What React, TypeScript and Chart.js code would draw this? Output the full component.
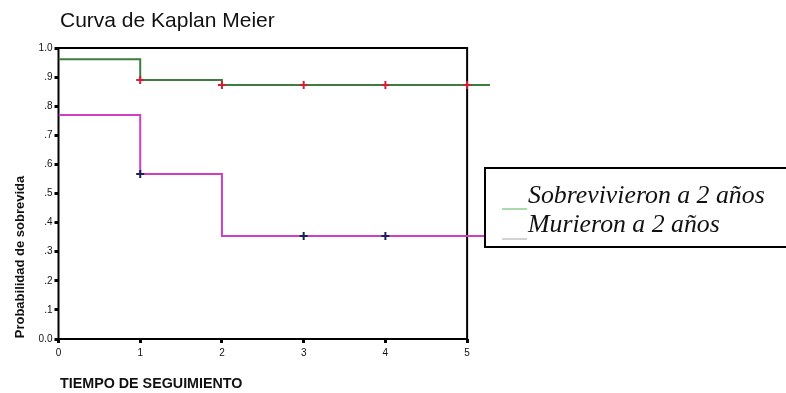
import { useEffect, useRef } from "react";
import { Chart, registerables } from "chart.js";

Chart.register(...registerables);

const TITLE = "Curva de Kaplan Meier";
const X_TITLE = "TIEMPO DE SEGUIMIENTO";
const Y_TITLE = "Probabilidad de sobrevida";
const SERIES_LABELS = ["Sobrevivieron a 2 años", "Murieron a 2 años"];

const X_TICKS = [0, 1, 2, 3, 4, 5];
const Y_TICKS = [0, 0.1, 0.2, 0.3, 0.4, 0.5, 0.6, 0.7, 0.8, 0.9, 1.0];
const X_MAX = 5.28;

const survivedTimes = [0, 1, 2, 5.28];
const survivedProb = [0.961, 0.89, 0.873, 0.873];
const survivedCensorTimes = [1, 2, 3, 4, 5];
const survivedCensorProb = [0.89, 0.873, 0.873, 0.873, 0.873];

const diedTimes = [0, 1, 2, 5.28];
const diedProb = [0.77, 0.567, 0.354, 0.354];
const diedCensorTimes = [1, 3, 4];
const diedCensorProb = [0.567, 0.354, 0.354];

const GREEN = "#3d7d3d";
const PINK = "#cf3fc4";
const RED = "#d02038";
const NAVY = "#1c1c5c";

const SANS = "'Liberation Sans', Arial, sans-serif";
const SERIF = "'Liberation Serif', 'Times New Roman', serif";

const pts = (xs: number[], ys: number[]) => xs.map((x, i) => ({ x, y: ys[i] }));

const decor = {
  id: "decor",
  beforeDatasetsDraw(chart: any) {
    const { ctx, scales } = chart;
    const x = scales.x, y = scales.y;
    ctx.save();
    ctx.strokeStyle = "#000";
    ctx.lineWidth = 2;
    const l = x.getPixelForValue(0), r = x.getPixelForValue(5);
    const t = y.getPixelForValue(1), b = y.getPixelForValue(0);
    ctx.strokeRect(l, t, r - l, b - t);
    ctx.restore();
  },
  afterDraw(chart: any) {
    const { ctx } = chart;
    ctx.save();
    // title
    ctx.fillStyle = "#111";
    ctx.textBaseline = "alphabetic";
    ctx.textAlign = "left";
    ctx.font = `21px ${SANS}`;
    ctx.fillText(TITLE, 60, 27);
    // x title
    ctx.font = `bold 14.3px ${SANS}`;
    ctx.fillText(X_TITLE, 60, 388);
    // y title
    ctx.save();
    ctx.translate(24, 257);
    ctx.rotate(-Math.PI / 2);
    ctx.textAlign = "center";
    ctx.font = `bold 13px ${SANS}`;
    ctx.fillText(Y_TITLE, 0, 0);
    ctx.restore();
    // legend box
    ctx.fillStyle = "#fff";
    ctx.fillRect(485, 168, 320, 79);
    ctx.strokeStyle = "#000";
    ctx.lineWidth = 2;
    ctx.strokeRect(485, 168, 320, 79);
    ctx.lineWidth = 1.5;
    ctx.strokeStyle = "#8fcf8f";
    ctx.beginPath();
    ctx.moveTo(502, 209);
    ctx.lineTo(527, 209);
    ctx.stroke();
    ctx.strokeStyle = "#c4c4c4";
    ctx.beginPath();
    ctx.moveTo(502, 239);
    ctx.lineTo(527, 239);
    ctx.stroke();
    ctx.fillStyle = "#111";
    ctx.font = `italic 25.8px ${SERIF}`;
    ctx.fillText(SERIES_LABELS[0], 528, 203);
    ctx.fillText(SERIES_LABELS[1], 528, 232);
    ctx.restore();
  },
};

export default function App() {
  const ref = useRef<HTMLCanvasElement | null>(null);
  useEffect(() => {
    document.body.style.margin = "0";
    if (!ref.current) return;
    const chart = new Chart(ref.current, {
      type: "scatter",
      data: {
        datasets: [
          {
            label: SERIES_LABELS[0] + " (censurados)",
            data: pts(survivedCensorTimes, survivedCensorProb),
            pointStyle: "cross",
            pointRadius: 4,
            borderColor: RED,
            borderWidth: 2,
            showLine: false,
            order: 0,
          },
          {
            label: SERIES_LABELS[1] + " (censurados)",
            data: pts(diedCensorTimes, diedCensorProb),
            pointStyle: "cross",
            pointRadius: 4,
            borderColor: NAVY,
            borderWidth: 2,
            showLine: false,
            order: 0,
          },
          {
            label: SERIES_LABELS[0],
            data: pts(survivedTimes, survivedProb),
            showLine: true,
            stepped: "before",
            borderColor: GREEN,
            borderWidth: 2,
            pointRadius: 0,
            order: 1,
          },
          {
            label: SERIES_LABELS[1],
            data: pts(diedTimes, diedProb),
            showLine: true,
            stepped: "before",
            borderColor: PINK,
            borderWidth: 2,
            pointRadius: 0,
            order: 1,
          },
        ],
      },
      options: {
        responsive: false,
        animation: false,
        layout: { padding: { top: 48, right: 296, left: 0, bottom: 0 } },
        plugins: { legend: { display: false }, tooltip: { enabled: false }, title: { display: false } },
        scales: {
          x: {
            type: "linear",
            min: 0,
            max: X_MAX,
            afterBuildTicks: (s: any) => {
              s.ticks = X_TICKS.map((v) => ({ value: v }));
            },
            afterFit: (s: any) => {
              s.height = 54;
            },
            grid: { display: true, drawOnChartArea: false, drawTicks: true, tickLength: 4, tickWidth: 3, tickColor: "#000" },
            border: { display: false },
            ticks: {
              padding: 4,
              color: "#111",
              font: { family: SANS, size: 10 },
              callback: (v: any) => String(v),
              maxRotation: 0,
            },
          },
          y: {
            type: "linear",
            min: 0,
            max: 1,
            afterBuildTicks: (s: any) => {
              s.ticks = Y_TICKS.map((v) => ({ value: v }));
            },
            afterFit: (s: any) => {
              s.width = 58.5;
            },
            grid: { display: true, drawOnChartArea: false, drawTicks: true, tickLength: 4, tickWidth: 3, tickColor: "#000" },
            border: { display: false },
            ticks: {
              padding: 2,
              color: "#111",
              font: { family: SANS, size: 10 },
              callback: (v: any) => {
                const n = Math.round(Number(v) * 10);
                if (n === 10) return "1.0";
                if (n === 0) return "0.0";
                return "." + n;
              },
            },
          },
        },
      },
      plugins: [decor],
    } as any);
    return () => chart.destroy();
  }, []);
  return <canvas ref={ref} width={786} height={393} style={{ display: "block", width: 786, height: 393 }} />;
}
